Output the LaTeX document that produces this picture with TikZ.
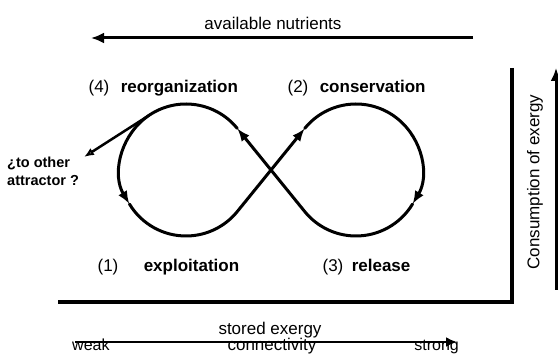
\documentclass[tikz,border=0pt]{standalone}
\usepackage{fontspec}
\setmainfont{Liberation Sans}
\usetikzlibrary{arrows.meta, positioning, calc}
\tikzset{
    txt/.style={inner sep=0pt, font=\fontsize{17}{20}\selectfont},
    phase/.style={inner sep=0pt, font=\fontsize{17}{20}\selectfont\bfseries},
    loopline/.style={line width=3pt, line cap=round},
    axisArrow/.style={line width=3pt, -{Latex[length=13pt, width=11pt]}}
}

\begin{document}
\begin{tikzpicture}[x=1pt, y=-1pt, >={Latex[length=13pt, width=10pt]}]
    \useasboundingbox (0,0) rectangle (558,358);
    % available nutrients
    \node[txt] (nutr) at (273,23) {available nutrients};
    \coordinate (nutrR) at (473,38);  \coordinate (nutrL) at (91,38);
    \draw[axisArrow] (nutrR) -- (nutrL);
    % phases
    \node[txt] (n4) at (99,88) {(4)};
    \node[phase, base right=11pt of n4] (p4) {reorganization};
    \node[txt] (n2) at (298,88) {(2)};
    \node[phase, base right=11pt of n2] (p2) {conservation};
    \node[txt] (n1) at (108,267) {(1)};
    \node[phase, base right=25pt of n1] (p1) {exploitation};
    \node[txt] (n3) at (333,267) {(3)};
    \node[phase, base right=8pt of n3] (p3) {release};
    % the loop
    \coordinate (mid) at (271,170);
    \coordinate (cL) at (186,170);  \coordinate (cR) at (356,170);
    \draw[loopline, ->] (mid) -- ($(cR)+(219.05:66)$);
    \draw[loopline, ->] ($(cR)+(219.05:66)$) arc[start angle=219.05, end angle=391, radius=66];
    \draw[loopline] ($(cR)+(31:66)$) arc[start angle=31, end angle=140.95, radius=66] -- (mid);
    \draw[loopline, ->] (mid) -- ($(cL)+(-39.05:66)$);
    \draw[loopline, ->] ($(cL)+(-39.05:66)$) arc[start angle=-39.05, end angle=-211, radius=66];
    \draw[loopline] ($(cL)+(149:66)$) arc[start angle=149, end angle=39.05, radius=66] -- (mid);
    % other attractor
    \node[anchor=west, align=left, inner sep=0pt, font=\fontsize{14.5}{18}\selectfont\bfseries] (attr) at (7,171) {¿to other\\attractor ?};
    \coordinate (attrTip) at (84,157);
    \draw[line width=2.5pt, -{Latex[open, length=10pt, width=8pt]}] ($(cL)+(-123.9:66)$) -- (attrTip);
    % frame
    \coordinate (Ltop) at (512,68);  \coordinate (Lcorner) at (512,302);  \coordinate (Lleft) at (58,302);
    \draw[line width=4pt] (Ltop) -- (Lcorner) -- (Lleft);
    % consumption of exergy
    \node[txt, rotate=90] (cons) at (535,182) {Consumption of exergy};
    \coordinate (consB) at (556,290);  \coordinate (consT) at (556,68);
    \draw[axisArrow] (consB) -- (consT);
    % stored exergy
    \coordinate (exL) at (75,342);  \coordinate (exR) at (457,342);
    \draw[line width=2.5pt, -{Latex[length=11pt, width=10pt]}] (exL) -- (exR);
    \node[txt, anchor=base] (stored) at (270,335) {stored exergy};
    \node[txt, anchor=base] (conn) at (272,351) {connectivity};
    \node[txt, anchor=base west, font=\fontsize{16}{18}\selectfont] (weak) at (72,351) {weak};
    \node[txt, anchor=base east, font=\fontsize{16}{18}\selectfont] (strong) at (459,351) {strong};
\end{tikzpicture}
\end{document}
